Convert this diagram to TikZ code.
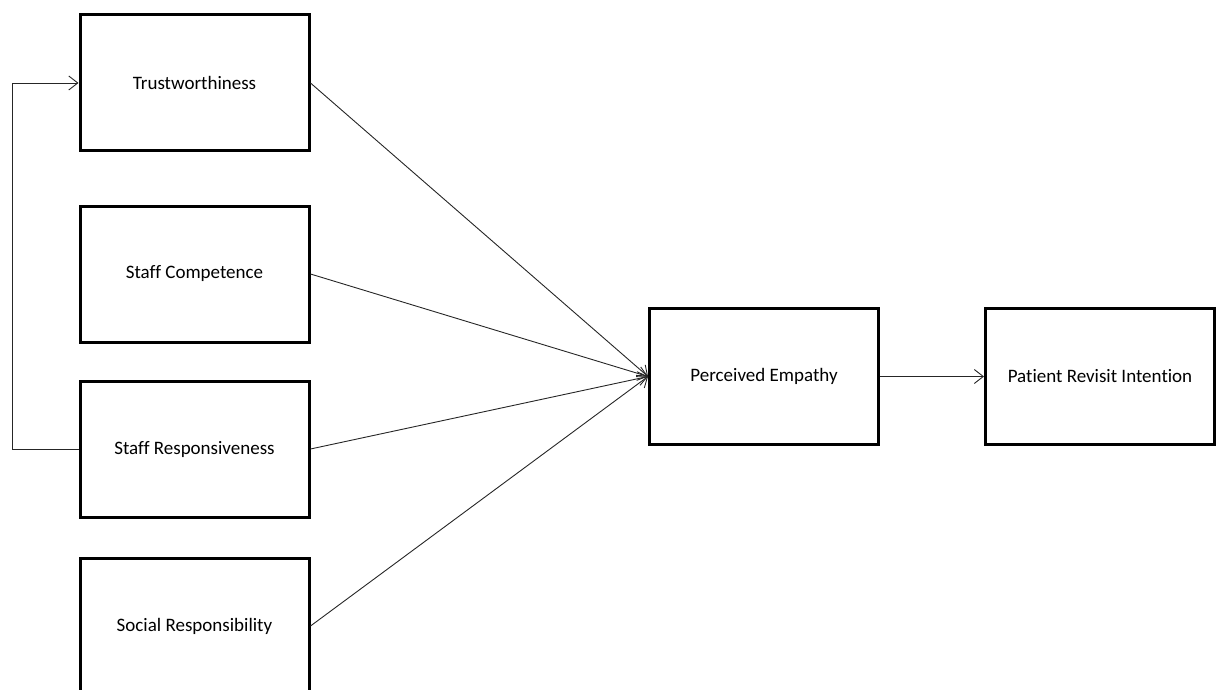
\documentclass[tikz,border=0pt]{standalone}
\usepackage{fontspec}
\setmainfont[Ligatures=NoCommon]{Carlito}
\usetikzlibrary{arrows.meta}
\begin{document}
\begin{tikzpicture}[x=1pt,y=-1pt,
  box/.style={draw=black,line width=3pt,minimum width=229pt,minimum height=136pt,inner sep=0pt,font=\fontsize{19}{22}\selectfont,fill=white},
  conn/.style={draw=black!85,line width=0.9pt,-{Straight Barb[length=9pt,width=14pt,line width=0.9pt]}},
  plain/.style={draw=black!85,line width=0.9pt}]
\useasboundingbox (0,0) rectangle (1216,690);
\node[box] (tw) at (194.5,83) {Trustworthiness};
\node[box] (sc) at (194.5,274) {Staff Competence};
\node[box] (sr) at (194.5,449) {Staff Responsiveness};
\node[box] (so) at (194.5,626) {Social Responsibility};
\node[box] (pe) at (764,376.5) {Perceived Empathy};
\node[box] (pr) at (1100,376.5) {Patient Revisit Intention};
\coordinate (c1) at (12,449);
\coordinate (c2) at (12,83);
\draw[conn] (sr.west) -- (c1) -- (c2) -- (tw.west);
\draw[conn] (tw.east) -- (pe.west);
\draw[conn] (sc.east) -- (pe.west);
\draw[conn] (sr.east) -- (pe.west);
\draw[conn] (so.east) -- (pe.west);
\draw[conn] (pe.east) -- (pr.west);
\end{tikzpicture}
\end{document}
